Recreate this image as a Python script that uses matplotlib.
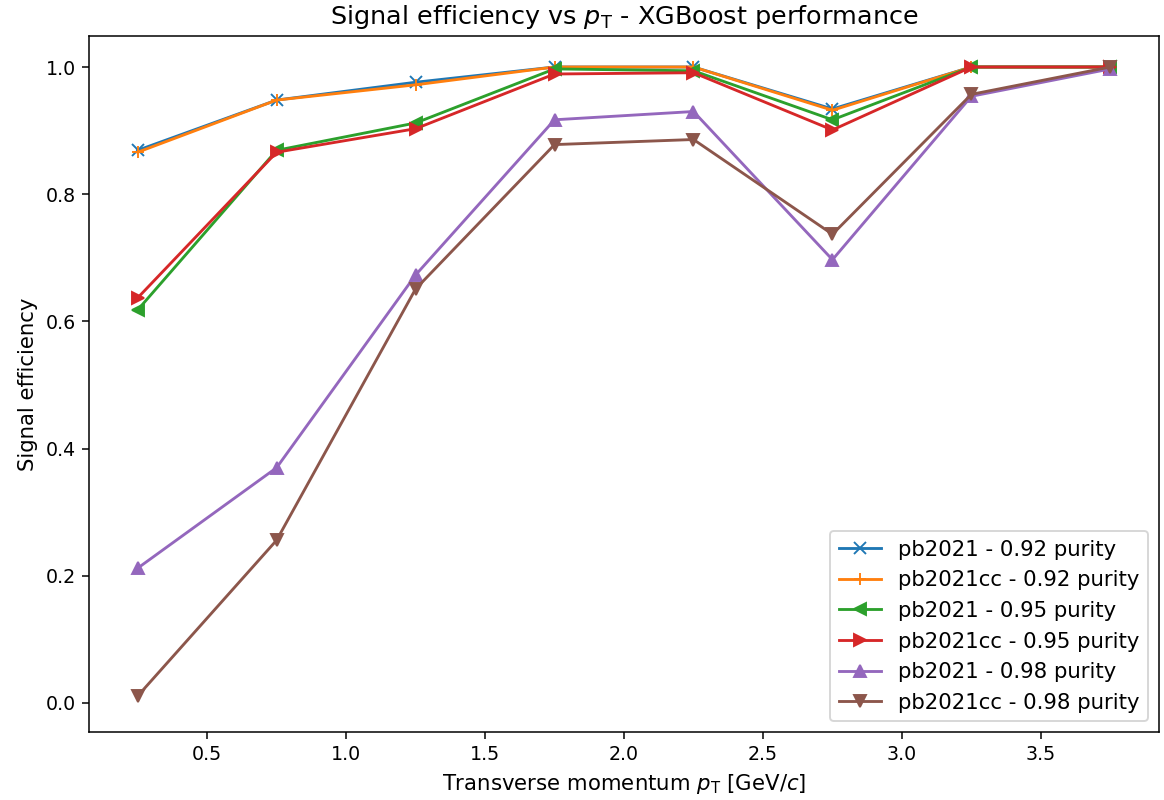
import numpy as np
import matplotlib
matplotlib.use("Agg")
import matplotlib.pyplot as plt

pt = [0.25, 0.75, 1.25, 1.75, 2.25, 2.75, 3.25, 3.75]

eff_pb_092 = [0.869, 0.948, 0.976, 1.0, 1.0, 0.934, 1.0, 1.0]
eff_cc_092 = [0.866, 0.948, 0.972, 1.0, 1.0, 0.932, 1.0, 1.0]
eff_pb_095 = [0.618, 0.869, 0.912, 0.997, 0.994, 0.917, 1.0, 1.0]
eff_cc_095 = [0.637, 0.866, 0.903, 0.989, 0.991, 0.901, 1.0, 1.0]
eff_pb_098 = [0.212, 0.370, 0.673, 0.917, 0.930, 0.697, 0.954, 0.997]
eff_cc_098 = [0.011, 0.256, 0.651, 0.878, 0.886, 0.737, 0.957, 1.0]

labels = ["pb2021 - 0.92 purity", "pb2021cc - 0.92 purity",
          "pb2021 - 0.95 purity", "pb2021cc - 0.95 purity",
          "pb2021 - 0.98 purity", "pb2021cc - 0.98 purity"]
markers = ["x", "+", "<", ">", "^", "v"]
series = [eff_pb_092, eff_cc_092, eff_pb_095, eff_cc_095, eff_pb_098, eff_cc_098]

dpi = 137
fig = plt.figure(figsize=(1164 / dpi, 800 / dpi), dpi=dpi)
ax = fig.add_axes([0.0765, 0.085, 0.9192, 0.8706])

for eff, m, lab in zip(series, markers, labels):
    ax.plot(pt, eff, marker=m, label=lab)

ax.set_ylim(-0.0456, 1.0495)
ax.tick_params(labelsize=10)
ax.set_title(r"Signal efficiency vs $p_\mathrm{T}$ - XGBoost performance", fontsize=13.4)
ax.set_xlabel(r"Transverse momentum $p_\mathrm{T}$ [GeV/$c$]", fontsize=11.2)
ax.set_ylabel("Signal efficiency", fontsize=11.2)
ax.legend(loc="lower right", fontsize=11.2)

fig.savefig("out.png", dpi=dpi)
